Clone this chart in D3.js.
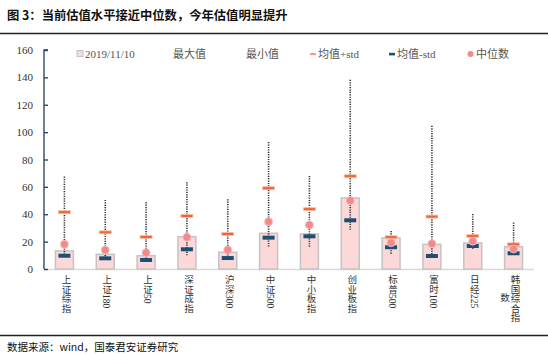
<!DOCTYPE html>
<html><head><meta charset="utf-8">
<script src="https://cdn.jsdelivr.net/npm/d3@7"></script>
<style>
body{margin:0;background:#fff;}
svg{display:block;}
</style></head>
<body>
<svg id="c" width="548" height="356"></svg>
<script>
const categories = ["上证综指","上证180","上证50","深证成指","沪深300","中证500","中小板指","创业板指","标普500","富时100","日经225","韩国综合指数"];
const current = [13.2,10.7,9.7,23.6,12.2,26.1,25.6,51.9,22.7,18.0,19.0,16.3];
const maxVal  = [67.5,50.5,48.8,63.4,51.0,92.7,68.0,138.2,27.8,104.6,40.2,33.9];
const minVal  = [9.0,7.0,6.0,10.0,7.5,16.3,15.6,28.0,10.7,9.0,14.4,10.2];
const meanPlusStd  = [41.5,26.8,23.4,38.8,25.6,59.0,43.7,67.8,23.2,38.3,24.1,18.0];
const meanMinusStd = [9.7,7.8,6.6,14.4,8.0,22.9,23.9,35.6,15.9,9.5,16.8,11.5];
const median  = [18.0,13.9,11.9,23.2,13.9,34.6,32.2,50.0,19.2,18.5,20.3,14.6];
const yTicks = [0,20,40,60,80,100,120,140,160];
const legendLabels = ["2019/11/10","最大值","最小值","均值+std","均值-std","中位数"];

const svg = d3.select("#c");
const serif = "'Liberation Serif','Noto Sans CJK SC',serif";
const cjk = "'Noto Sans CJK SC','Liberation Serif',sans-serif";

// Title
svg.append("text").attr("x",7).attr("y",20)
  .attr("font-family",cjk).attr("font-weight","bold").attr("font-size",12.3).attr("fill","#111")
  .text("图 3：当前估值水平接近中位数，今年估值明显提升");
svg.append("line").attr("x1",0).attr("x2",548).attr("y1",33.5).attr("y2",33.5)
  .attr("stroke","#222").attr("stroke-width",1.3);
svg.append("line").attr("x1",0).attr("x2",548).attr("y1",335.5).attr("y2",335.5)
  .attr("stroke","#222").attr("stroke-width",1.3);
svg.append("text").attr("x",7).attr("y",350.5)
  .attr("font-family",cjk).attr("font-size",10.5).attr("fill","#111")
  .text("数据来源：wind，国泰君安证券研究");

const x = d3.scaleBand().domain(categories).range([44,534]).paddingInner(0.56).paddingOuter(0.28);
const y = d3.scaleLinear().domain([0,160]).range([269,50]);

// x axis line
svg.append("line").attr("x1",44).attr("x2",534).attr("y1",y(0)+0.5).attr("y2",y(0)+0.5)
  .attr("stroke","#d9d9d9").attr("stroke-width",1.5);

// y axis
const yAxis = d3.axisRight(y).tickValues(yTicks).tickSize(4).tickFormat("");
const yg = svg.append("g").attr("transform","translate(44,0)").call(yAxis);
yg.selectAll("path,line").attr("stroke","#1f3d5c").attr("stroke-width",1.3);
yg.select(".domain").attr("d", `M4,${y(160)}H0V${y(0)}`);
svg.append("g").selectAll("text").data(yTicks).join("text")
  .attr("x",33).attr("y",d=>y(d)+4).attr("text-anchor","end")
  .attr("font-family",serif).attr("font-size",11).attr("fill","#333").text(d=>d);

const bw = x.bandwidth();
const cx = c => x(c)+bw/2;

// bars
svg.append("g").selectAll("rect").data(categories).join("rect")
  .attr("x",c=>x(c)).attr("width",bw)
  .attr("y",(c,i)=>y(current[i])).attr("height",(c,i)=>y(0)-y(current[i]))
  .attr("fill","#fdd8d8").attr("stroke","#c4c4c4").attr("stroke-width",1.5);

// dotted max-min lines
svg.append("g").selectAll("line").data(categories).join("line")
  .attr("x1",cx).attr("x2",cx)
  .attr("y1",(c,i)=>y(maxVal[i])).attr("y2",(c,i)=>y(minVal[i]))
  .attr("stroke","#333").attr("stroke-width",1.6).attr("stroke-dasharray","1.2,1.2");

// mean+std
svg.append("g").selectAll("rect").data(categories).join("rect")
  .attr("x",c=>cx(c)-6).attr("width",12)
  .attr("y",(c,i)=>y(meanPlusStd[i])-1.5).attr("height",3)
  .attr("fill","#f0643c").attr("stroke","#f8c3a8").attr("stroke-width",0.8);

// mean-std
svg.append("g").selectAll("rect").data(categories).join("rect")
  .attr("x",c=>cx(c)-6).attr("width",12)
  .attr("y",(c,i)=>y(meanMinusStd[i])-2).attr("height",4)
  .attr("fill","#1b4f74");

// median
svg.append("g").selectAll("circle").data(categories).join("circle")
  .attr("cx",cx).attr("cy",(c,i)=>y(median[i])).attr("r",4)
  .attr("fill","#f28a8a").attr("stroke","#f7c0c0").attr("stroke-width",0.8);

// x labels (vertical)
const xl = svg.append("g");
categories.forEach(c=>{
  if (c.length > 5) {
    xl.append("text").attr("x",cx(c)+1).attr("y",275)
      .style("writing-mode","vertical-rl").style("text-orientation","mixed")
      .attr("font-family",serif).attr("font-size",9.5).attr("fill","#333").text(c.slice(0,5));
    xl.append("text").attr("x",cx(c)-9.5).attr("y",293)
      .style("writing-mode","vertical-rl").style("text-orientation","mixed")
      .attr("font-family",serif).attr("font-size",9.5).attr("fill","#333").text(c.slice(5));
  } else {
    xl.append("text").attr("x",cx(c)+1).attr("y",275)
      .style("writing-mode","vertical-rl").style("text-orientation","mixed")
      .attr("font-family",serif).attr("font-size",9.5).attr("fill","#333").text(c);
  }
});

// legend
const ly = 54;
const lg = svg.append("g").attr("font-family",serif).attr("font-size",11).attr("fill","#555");
lg.append("rect").attr("x",77).attr("y",ly-3.5).attr("width",6).attr("height",6)
  .attr("fill","#fdd8d8").attr("stroke","#c4c4c4").attr("stroke-width",1);
lg.append("text").attr("x",85).attr("y",ly+4).text(legendLabels[0]);
lg.append("text").attr("x",173).attr("y",ly+4).text(legendLabels[1]);
lg.append("text").attr("x",246).attr("y",ly+4).text(legendLabels[2]);
lg.append("rect").attr("x",310).attr("y",ly-1).attr("width",6).attr("height",2.2).attr("fill","#f5a07a");
lg.append("text").attr("x",318).attr("y",ly+4).text(legendLabels[3]);
lg.append("rect").attr("x",389).attr("y",ly-1.2).attr("width",6).attr("height",2.6).attr("fill","#1b4f74");
lg.append("text").attr("x",397).attr("y",ly+4).text(legendLabels[4]);
lg.append("circle").attr("cx",470.5).attr("cy",ly).attr("r",3).attr("fill","#f28a8a");
lg.append("text").attr("x",476).attr("y",ly+4).text(legendLabels[5]);
</script>
</body></html>
